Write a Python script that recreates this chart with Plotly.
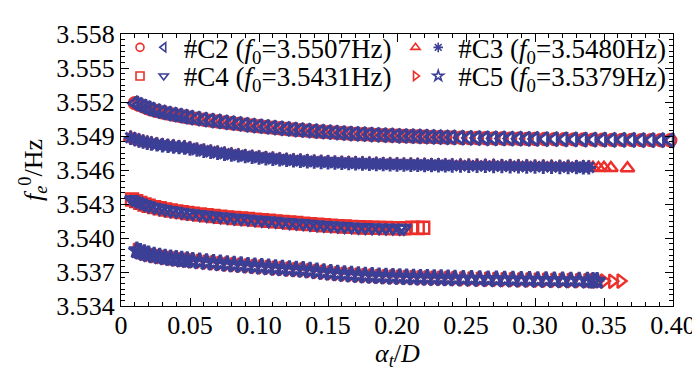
import plotly.graph_objects as go

# ---------------- data ----------------
C2_x = [0.010, 0.013, 0.016, 0.019, 0.022, 0.026, 0.030, 0.034, 0.038, 0.042, 0.046, 0.050,
        0.055, 0.060, 0.065, 0.070, 0.075, 0.080, 0.085, 0.090, 0.095, 0.100, 0.105, 0.110,
        0.115, 0.120, 0.125, 0.130, 0.135, 0.140, 0.145, 0.150, 0.155, 0.160, 0.165, 0.170,
        0.175, 0.180, 0.185, 0.190, 0.195, 0.200, 0.205, 0.210, 0.215, 0.220, 0.225, 0.230,
        0.235, 0.240, 0.246, 0.252, 0.258, 0.264, 0.270, 0.276, 0.282, 0.288, 0.294, 0.300,
        0.307, 0.314, 0.321, 0.328, 0.335, 0.342, 0.349, 0.356, 0.363, 0.370, 0.377, 0.384,
        0.391, 0.398, 0.404]
C2_y = [3.55190, 3.55175, 3.55160, 3.55145, 3.55133, 3.55120, 3.55108, 3.55098, 3.55088, 3.55079,
        3.55070, 3.55062, 3.55053, 3.55044, 3.55036, 3.55028, 3.55020, 3.55013, 3.55006, 3.54999,
        3.54992, 3.54986, 3.54980, 3.54974, 3.54968, 3.54962, 3.54957, 3.54952, 3.54947, 3.54942,
        3.54938, 3.54934, 3.54930, 3.54926, 3.54922, 3.54919, 3.54916, 3.54913, 3.54910, 3.54907,
        3.54905, 3.54902, 3.54900, 3.54898, 3.54896, 3.54894, 3.54892, 3.54890, 3.54888, 3.54887,
        3.54885, 3.54883, 3.54882, 3.54880, 3.54879, 3.54878, 3.54877, 3.54876, 3.54875, 3.54874,
        3.54873, 3.54872, 3.54871, 3.54870, 3.54869, 3.54868, 3.54867, 3.54866, 3.54866, 3.54865,
        3.54864, 3.54864, 3.54863, 3.54862, 3.54862]

C3_x = [0.007, 0.010, 0.013, 0.016, 0.019, 0.022, 0.026, 0.030, 0.034, 0.038, 0.042, 0.046,
        0.050, 0.055, 0.060, 0.065, 0.070, 0.075, 0.080, 0.085, 0.090, 0.095, 0.100, 0.105,
        0.110, 0.115, 0.120, 0.125, 0.130, 0.135, 0.140, 0.145, 0.150, 0.155, 0.160, 0.165,
        0.170, 0.175, 0.180, 0.185, 0.190, 0.195, 0.200, 0.205, 0.210, 0.215, 0.220, 0.225,
        0.230, 0.235, 0.240, 0.246, 0.252, 0.258, 0.264, 0.270, 0.276, 0.282, 0.288, 0.294,
        0.300, 0.306, 0.312, 0.318, 0.324, 0.330, 0.335, 0.339]
C3_y = [3.54885, 3.54872, 3.54860, 3.54850, 3.54841, 3.54834, 3.54826, 3.54819, 3.54813, 3.54807,
        3.54802, 3.54798, 3.54790, 3.54780, 3.54770, 3.54761, 3.54752, 3.54744, 3.54736, 3.54729,
        3.54722, 3.54716, 3.54710, 3.54704, 3.54699, 3.54694, 3.54689, 3.54685, 3.54681, 3.54677,
        3.54674, 3.54671, 3.54668, 3.54665, 3.54663, 3.54661, 3.54659, 3.54657, 3.54655, 3.54653,
        3.54652, 3.54650, 3.54649, 3.54647, 3.54646, 3.54645, 3.54644, 3.54643, 3.54642, 3.54641,
        3.54640, 3.54639, 3.54638, 3.54637, 3.54636, 3.54635, 3.54634, 3.54633, 3.54632, 3.54631,
        3.54630, 3.54629, 3.54628, 3.54627, 3.54626, 3.54625, 3.54624, 3.54623]
C3_tail_x = [0.342, 0.346, 0.350, 0.355, 0.367]
C3_tail_y = [3.54620, 3.54618, 3.54620, 3.54617, 3.54616]

C4_x = [0.008, 0.011, 0.014, 0.017, 0.020, 0.024, 0.028, 0.032, 0.036, 0.040, 0.044, 0.048,
        0.052, 0.057, 0.062, 0.067, 0.072, 0.077, 0.082, 0.087, 0.092, 0.097, 0.102, 0.107,
        0.112, 0.117, 0.122, 0.127, 0.132, 0.137, 0.142, 0.147, 0.152, 0.157, 0.162, 0.167,
        0.172, 0.177, 0.182, 0.187, 0.192, 0.197, 0.202, 0.205]
C4_y = [3.54340, 3.54325, 3.54310, 3.54296, 3.54284, 3.54272, 3.54262, 3.54252, 3.54243, 3.54235,
        3.54228, 3.54221, 3.54215, 3.54208, 3.54201, 3.54194, 3.54188, 3.54182, 3.54177, 3.54172,
        3.54167, 3.54162, 3.54157, 3.54152, 3.54147, 3.54142, 3.54137, 3.54132, 3.54127, 3.54122,
        3.54117, 3.54113, 3.54109, 3.54105, 3.54101, 3.54098, 3.54095, 3.54093, 3.54091, 3.54089,
        3.54088, 3.54087, 3.54086, 3.54085]
C4_tail_x = [0.211, 0.215, 0.219]
C4_tail_y = [3.54090, 3.54088, 3.54090]

C5_x = [0.0115, 0.014, 0.017, 0.020, 0.024, 0.028, 0.032, 0.036, 0.040, 0.044, 0.048, 0.052,
        0.057, 0.062, 0.067, 0.072, 0.077, 0.082, 0.087, 0.092, 0.097, 0.102, 0.107, 0.112,
        0.117, 0.122, 0.127, 0.132, 0.137, 0.142, 0.147, 0.152, 0.157, 0.162, 0.167, 0.172,
        0.177, 0.182, 0.187, 0.192, 0.197, 0.202, 0.207, 0.212, 0.217, 0.222, 0.227, 0.232,
        0.237, 0.242, 0.248, 0.254, 0.260, 0.266, 0.272, 0.278, 0.284, 0.290, 0.296, 0.302,
        0.308, 0.314, 0.320, 0.326, 0.332, 0.338, 0.342, 0.345]
C5_y = [3.53890, 3.53878, 3.53866, 3.53855, 3.53845, 3.53836, 3.53828, 3.53821, 3.53815, 3.53809,
        3.53804, 3.53799, 3.53793, 3.53787, 3.53781, 3.53776, 3.53770, 3.53765, 3.53760, 3.53755,
        3.53750, 3.53745, 3.53740, 3.53735, 3.53731, 3.53726, 3.53722, 3.53718, 3.53712, 3.53705,
        3.53698, 3.53692, 3.53686, 3.53681, 3.53676, 3.53672, 3.53668, 3.53665, 3.53662, 3.53659,
        3.53657, 3.53655, 3.53653, 3.53651, 3.53649, 3.53648, 3.53646, 3.53645, 3.53643, 3.53642,
        3.53640, 3.53639, 3.53637, 3.53636, 3.53635, 3.53633, 3.53632, 3.53631, 3.53630, 3.53629,
        3.53628, 3.53627, 3.53626, 3.53625, 3.53624, 3.53623, 3.53622, 3.53621]
C5_tail_x = [0.350, 0.356, 0.362]
C5_tail_y = [3.53620, 3.53618, 3.53620]

names = ["#C2 (<i>f</i><sub>0</sub>=3.5507Hz)", "#C3 (<i>f</i><sub>0</sub>=3.5480Hz)",
         "#C4 (<i>f</i><sub>0</sub>=3.5431Hz)", "#C5 (<i>f</i><sub>0</sub>=3.5379Hz)"]

y_ticks = [3.534, 3.537, 3.540, 3.543, 3.546, 3.549, 3.552, 3.555, 3.558]
y_ticktext = ["3.534", "3.537", "3.540", "3.543", "3.546", "3.549", "3.552", "3.555", "3.558"]
x_ticks = [0, 0.05, 0.10, 0.15, 0.20, 0.25, 0.30, 0.35, 0.40]
x_ticktext = ["0", "0.05", "0.10", "0.15", "0.20", "0.25", "0.30", "0.35", "0.40"]

# ---------------- styling ----------------
RED = "#ec2f2a"
BLUE = "#3b3f96"
FONT = "Liberation Serif"
MS = 12          # marker size in the plot
LW = 3.0
RLW = 2.4
LEG_MS = 8       # marker size in the legend
LEG_LW = 1.6

# plot area in pixels (used only to place the legend boxes / x title)
PL, PR, PT, PB = 113, 672, 22, 298
PW, PH = PR - PL, PB - PT


def lx(cx):
    return (cx - 26 - PL) / PW


def ly(cy):
    return (PB - cy) / PH


fig = go.Figure()

series = [
    # x, y, tail x, tail y, red symbol, blue symbol, name, legend marker centre x (red, blue), row y
    (C2_x, C2_y, [], [], "circle-open", "triangle-left-open", names[0], 138, 162, 36),
    (C3_x, C3_y, C3_tail_x, C3_tail_y, "triangle-up-open", "asterisk-open", names[1], 417, 440, 36),
    (C4_x, C4_y, C4_tail_x, C4_tail_y, "square-open", "triangle-down-open", names[2], 138, 162, 65),
    (C5_x, C5_y, C5_tail_x, C5_tail_y, "triangle-right-open", "star-open", names[3], 417, 440, 65),
]

legend_common = dict(
    xref="paper", yref="paper", xanchor="left", yanchor="middle",
    orientation="v", bgcolor="rgba(0,0,0,0)", borderwidth=0,
    font=dict(family=FONT, size=27, color="black"),
)

# data traces: red first (underneath), blue on top
for xs, ys, tx, ty, rsym, bsym, nm, rcx, bcx, cy in series:
    fig.add_trace(go.Scatter(
        x=xs + tx, y=ys + ty, mode="markers", showlegend=False,
        marker=dict(symbol=rsym, size=MS, color=RED, line=dict(color=RED, width=RLW)),
        cliponaxis=False))
for xs, ys, tx, ty, rsym, bsym, nm, rcx, bcx, cy in series:
    fig.add_trace(go.Scatter(
        x=xs, y=ys, mode="markers", showlegend=False,
        marker=dict(symbol=bsym, size=MS, color=BLUE, line=dict(color=BLUE, width=LW)),
        cliponaxis=False))

# legend entries (no data, only the key glyphs)
legend_layout = {}
k = 1
for xs, ys, tx, ty, rsym, bsym, nm, rcx, bcx, cy in series:
    key = "legend" if k == 1 else f"legend{k}"
    fig.add_trace(go.Scatter(
        x=[None], y=[None], mode="markers", name=" ", legend=key, showlegend=True,
        marker=dict(symbol=rsym, size=LEG_MS, color=RED, line=dict(color=RED, width=LEG_LW))))
    legend_layout[key] = dict(x=lx(rcx), y=ly(cy), **legend_common)
    k += 1
    key = f"legend{k}"
    fig.add_trace(go.Scatter(
        x=[None], y=[None], mode="markers", name=nm, legend=key, showlegend=True,
        marker=dict(symbol=bsym, size=LEG_MS, color=BLUE, line=dict(color=BLUE, width=LEG_LW))))
    legend_layout[key] = dict(x=lx(bcx), y=ly(cy), **legend_common)
    k += 1

fig.update_layout(**legend_layout)

axis_common = dict(
    showline=True, linecolor="black", linewidth=1, mirror="ticks",
    ticks="inside", ticklen=8, tickwidth=1, tickcolor="black",
    showgrid=False, zeroline=False,
    tickfont=dict(family=FONT, size=26, color="black"),
)

fig.update_xaxes(
    range=[0, 0.40], tickmode="array", tickvals=x_ticks, ticktext=x_ticktext,
    ticklabelstandoff=-4,
    minor=dict(tickmode="linear", tick0=0, dtick=0.01, ticks="inside", ticklen=4,
               tickcolor="black", tickwidth=1),
    **axis_common)
fig.update_yaxes(
    range=[3.534, 3.558], tickmode="array", tickvals=y_ticks, ticktext=y_ticktext,
    minor=dict(tickmode="linear", tick0=3.534, dtick=0.0005, ticks="inside", ticklen=4,
               tickcolor="black", tickwidth=1),
    title=dict(text="<i>f</i><sub><i>e</i></sub><sup>0</sup>/Hz",
               font=dict(family=FONT, size=26, color="black"), standoff=6),
    **axis_common)

# x-axis title as an annotation so it can sit exactly where the reference has it
fig.add_annotation(
    text="<i>α</i><sub><i>t</i></sub>/<i>D</i>", showarrow=False,
    xref="paper", yref="paper", x=0.5, y=(PB - 348) / PH,
    xanchor="center", yanchor="middle",
    font=dict(family=FONT, size=26, color="black"))

fig.update_layout(
    width=700, height=371,
    margin=dict(l=PL, r=700 - PR, t=PT, b=371 - PB),
    paper_bgcolor="white", plot_bgcolor="white",
    showlegend=True,
)

fig.write_html("out.html")
